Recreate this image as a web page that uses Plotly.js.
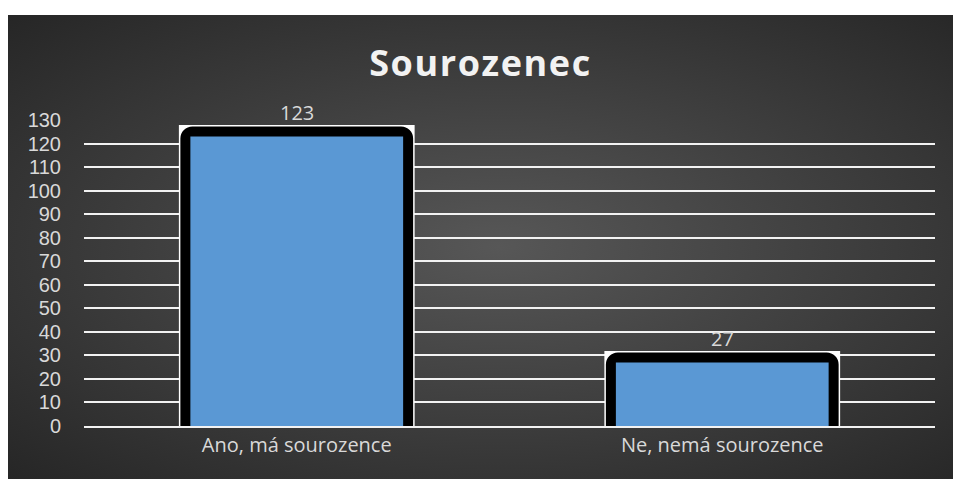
<!DOCTYPE html>
<html>
<head>
<meta charset="utf-8">
<script src="https://cdn.plot.ly/plotly-3.0.1.min.js"></script>
<style>
  html, body { margin: 0; padding: 0; background: #ffffff; }
  #chart {
    position: absolute; left: 8px; top: 15px; width: 945px; height: 464px;
    background: radial-gradient(ellipse farthest-corner at 52% 50%, #575757 0%, #3c3c3c 55%, #262626 100%);
  }
  #chart .gtitle { letter-spacing: 1.6px; }
</style>
</head>
<body>
<div id="chart"></div>
<script>
var categories = ["Ano, má sourozence", "Ne, nemá sourozence"];
var values = [123, 27];
var yTicks = [0, 10, 20, 30, 40, 50, 60, 70, 80, 90, 100, 110, 120, 130];
var chartTitle = "Sourozenec";

var FONT = "Open Sans, DejaVu Sans, sans-serif";
var TICKFONT = "Liberation Sans, Arial, sans-serif";

var outline = {
  type: "bar", x: categories, y: values, width: 0.5,
  marker: { color: "#ffffff", line: { color: "#ffffff", width: 23 } },
  hoverinfo: "skip", showlegend: false
};
var border = {
  type: "bar", x: categories, y: values, width: 0.5,
  marker: { color: "#000000", cornerradius: 2, line: { color: "#000000", width: 20 } },
  hoverinfo: "skip", showlegend: false
};
var fill = {
  type: "bar", x: categories, y: values, width: 0.5,
  marker: { color: "#5a98d4", line: { width: 0 } },
  showlegend: false
};

var annotations = categories.map(function (c, i) {
  return {
    x: c, y: values[i], xref: "x", yref: "y",
    text: String(values[i]), showarrow: false,
    yanchor: "middle", yshift: 24,
    font: { family: FONT, size: 20, color: "#d9d9d9" }
  };
});

var layout = {
  width: 945, height: 464,
  paper_bgcolor: "rgba(0,0,0,0)",
  plot_bgcolor: "rgba(0,0,0,0)",
  margin: { l: 76, r: 18, t: 105, b: 53, pad: 0 },
  barmode: "overlay",
  title: {
    text: "<b>" + chartTitle + "</b>",
    x: 0.5, xref: "container", xanchor: "center",
    y: 0.895, yref: "container", yanchor: "middle",
    font: { family: FONT, size: 36, color: "#f2f2f2" }
  },
  xaxis: {
    type: "category",
    tickfont: { family: FONT, size: 20, color: "#d9d9d9" },
    showgrid: false, showline: true, linecolor: "#f2f2f2", linewidth: 2,
    ticks: "", ticklen: 0
  },
  yaxis: {
    range: [0, 130], tickvals: yTicks, ticktext: yTicks.map(String),
    tickfont: { family: TICKFONT, size: 20, color: "#d9d9d9" },
    showgrid: true, gridcolor: "#f2f2f2", gridwidth: 2,
    zeroline: false, showline: false, ticks: "", ticklabelstandoff: 22
  },
  annotations: annotations
};

Plotly.newPlot("chart", [outline, border, fill], layout, { displayModeBar: false, staticPlot: true });
</script>
</body>
</html>
